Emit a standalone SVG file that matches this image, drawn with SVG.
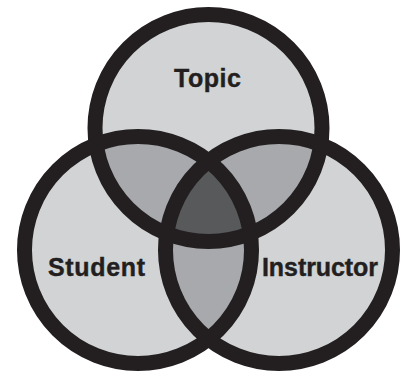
<svg xmlns="http://www.w3.org/2000/svg" width="403" height="374" viewBox="0 0 403 374">
  <style>
    .fill { fill: #d1d3d4; stroke: none; }
    .pair { fill: #a7a9ac; stroke: none; }
    .triple { fill: #58595b; stroke: none; }
    .ring { fill: none; stroke: #231f20; stroke-width: 15; }
    .label { font-family: "Liberation Sans", Arial, sans-serif; font-weight: bold; font-size: 25px; fill: #231f20; stroke: #231f20; stroke-width: 0.4; text-anchor: middle; }
  </style>
  <defs>
    <circle id="cTop" cx="208.5" cy="128" r="113.5"/>
    <circle id="cLeft" cx="138" cy="250" r="113.5"/>
    <circle id="cRight" cx="279" cy="250" r="113.5"/>
    <clipPath id="clipTop"><use href="#cTop"/></clipPath>
    <clipPath id="clipLeft"><use href="#cLeft"/></clipPath>
    <clipPath id="clipRight"><use href="#cRight"/></clipPath>
  </defs>
  <rect width="403" height="374" fill="#ffffff"/>
  <g id="fills">
    <use href="#cTop" class="fill"/>
    <use href="#cLeft" class="fill"/>
    <use href="#cRight" class="fill"/>
  </g>
  <g id="overlaps">
    <g clip-path="url(#clipTop)"><use href="#cLeft" class="pair"/><use href="#cRight" class="pair"/></g>
    <g clip-path="url(#clipLeft)"><use href="#cRight" class="pair"/></g>
    <g clip-path="url(#clipTop)"><g clip-path="url(#clipLeft)"><use href="#cRight" class="triple"/></g></g>
  </g>
  <g id="node-topic">
    <use href="#cTop" class="ring"/>
    <text class="label" x="207.5" y="86.5" textLength="67" lengthAdjust="spacing">Topic</text>
  </g>
  <g id="node-student">
    <use href="#cLeft" class="ring"/>
    <text class="label" x="96.5" y="275.5" textLength="97" lengthAdjust="spacing">Student</text>
  </g>
  <g id="node-instructor">
    <use href="#cRight" class="ring"/>
    <text class="label" x="320" y="275.5" textLength="116" lengthAdjust="spacing">Instructor</text>
  </g>
</svg>
